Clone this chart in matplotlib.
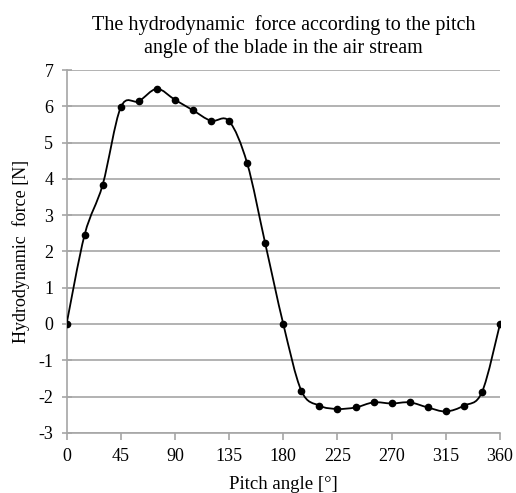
import numpy as np
import matplotlib
matplotlib.use("Agg")
from matplotlib import pyplot as plt
from matplotlib.path import Path
from matplotlib.patches import PathPatch

plt.rcParams['font.family'] = ['Liberation Serif', 'DejaVu Serif']
plt.rcParams['axes.unicode_minus'] = False

angle = [0, 15, 30, 45, 60, 75, 90, 105, 120, 135, 150, 165, 180,
         195, 210, 225, 240, 255, 270, 285, 300, 315, 330, 345, 360]
force = [0, 2.46, 3.84, 5.97, 6.14, 6.48, 6.18, 5.89, 5.60, 5.59, 4.43, 2.22, 0,
         -1.84, -2.25, -2.34, -2.30, -2.16, -2.19, -2.16, -2.30, -2.41, -2.25, -1.88, 0]

fig = plt.figure(figsize=(5.16, 4.93), dpi=100)
ax = fig.add_axes([0.129, 0.122, 0.840, 0.736])

# smoothed line like the spreadsheet one (bezier through the points)
x = np.array(angle, dtype=float)
y = np.array(force, dtype=float)
verts = [(x[0], y[0])]
codes = [Path.MOVETO]
for i in range(len(x) - 1):
    x0, y0 = (x[i - 1], y[i - 1]) if i > 0 else (x[i], y[i])
    x3, y3 = (x[i + 2], y[i + 2]) if i + 2 < len(x) else (x[i + 1], y[i + 1])
    c1 = (x[i] + (x[i + 1] - x0) / 6, y[i] + (y[i + 1] - y0) / 6)
    c2 = (x[i + 1] - (x3 - x[i]) / 6, y[i + 1] - (y3 - y[i]) / 6)
    verts += [c1, c2, (x[i + 1], y[i + 1])]
    codes += [Path.CURVE4] * 3
ax.add_patch(PathPatch(Path(verts, codes), facecolor='none', edgecolor='black',
                       lw=1.3, zorder=3))
ax.plot(angle, force, 'o', color='black', ms=4.5, zorder=4)

ax.set_xlim(0, 360)
ax.set_ylim(-3, 7)
ax.set_xticks(range(0, 361, 45))
ax.set_yticks(range(-3, 8))
ax.grid(True, axis='y', color='#a6a6a6', lw=1.2)
ax.set_axisbelow(True)
for s in ['top', 'right']:
    ax.spines[s].set_visible(False)
for s in ['left', 'bottom']:
    ax.spines[s].set_color('#a6a6a6')
    ax.spines[s].set_linewidth(1.2)
ax.tick_params(axis='both', colors='#a6a6a6', labelcolor='black', labelsize=13,
               width=1.2)
ax.tick_params(axis='x', length=5, direction='out', pad=6)
ax.tick_params(axis='y', length=7, direction='inout', pad=6)

ax.set_title('The hydrodynamic  force according to the pitch\nangle of the blade in the air stream',
             fontsize=14.5, pad=12, linespacing=1.25)
ax.set_xlabel('Pitch angle [°]', fontsize=13.5, labelpad=8)
ax.set_ylabel('Hydrodynamic  force [N]', fontsize=13, labelpad=6)

plt.savefig('out.png', dpi=100)
